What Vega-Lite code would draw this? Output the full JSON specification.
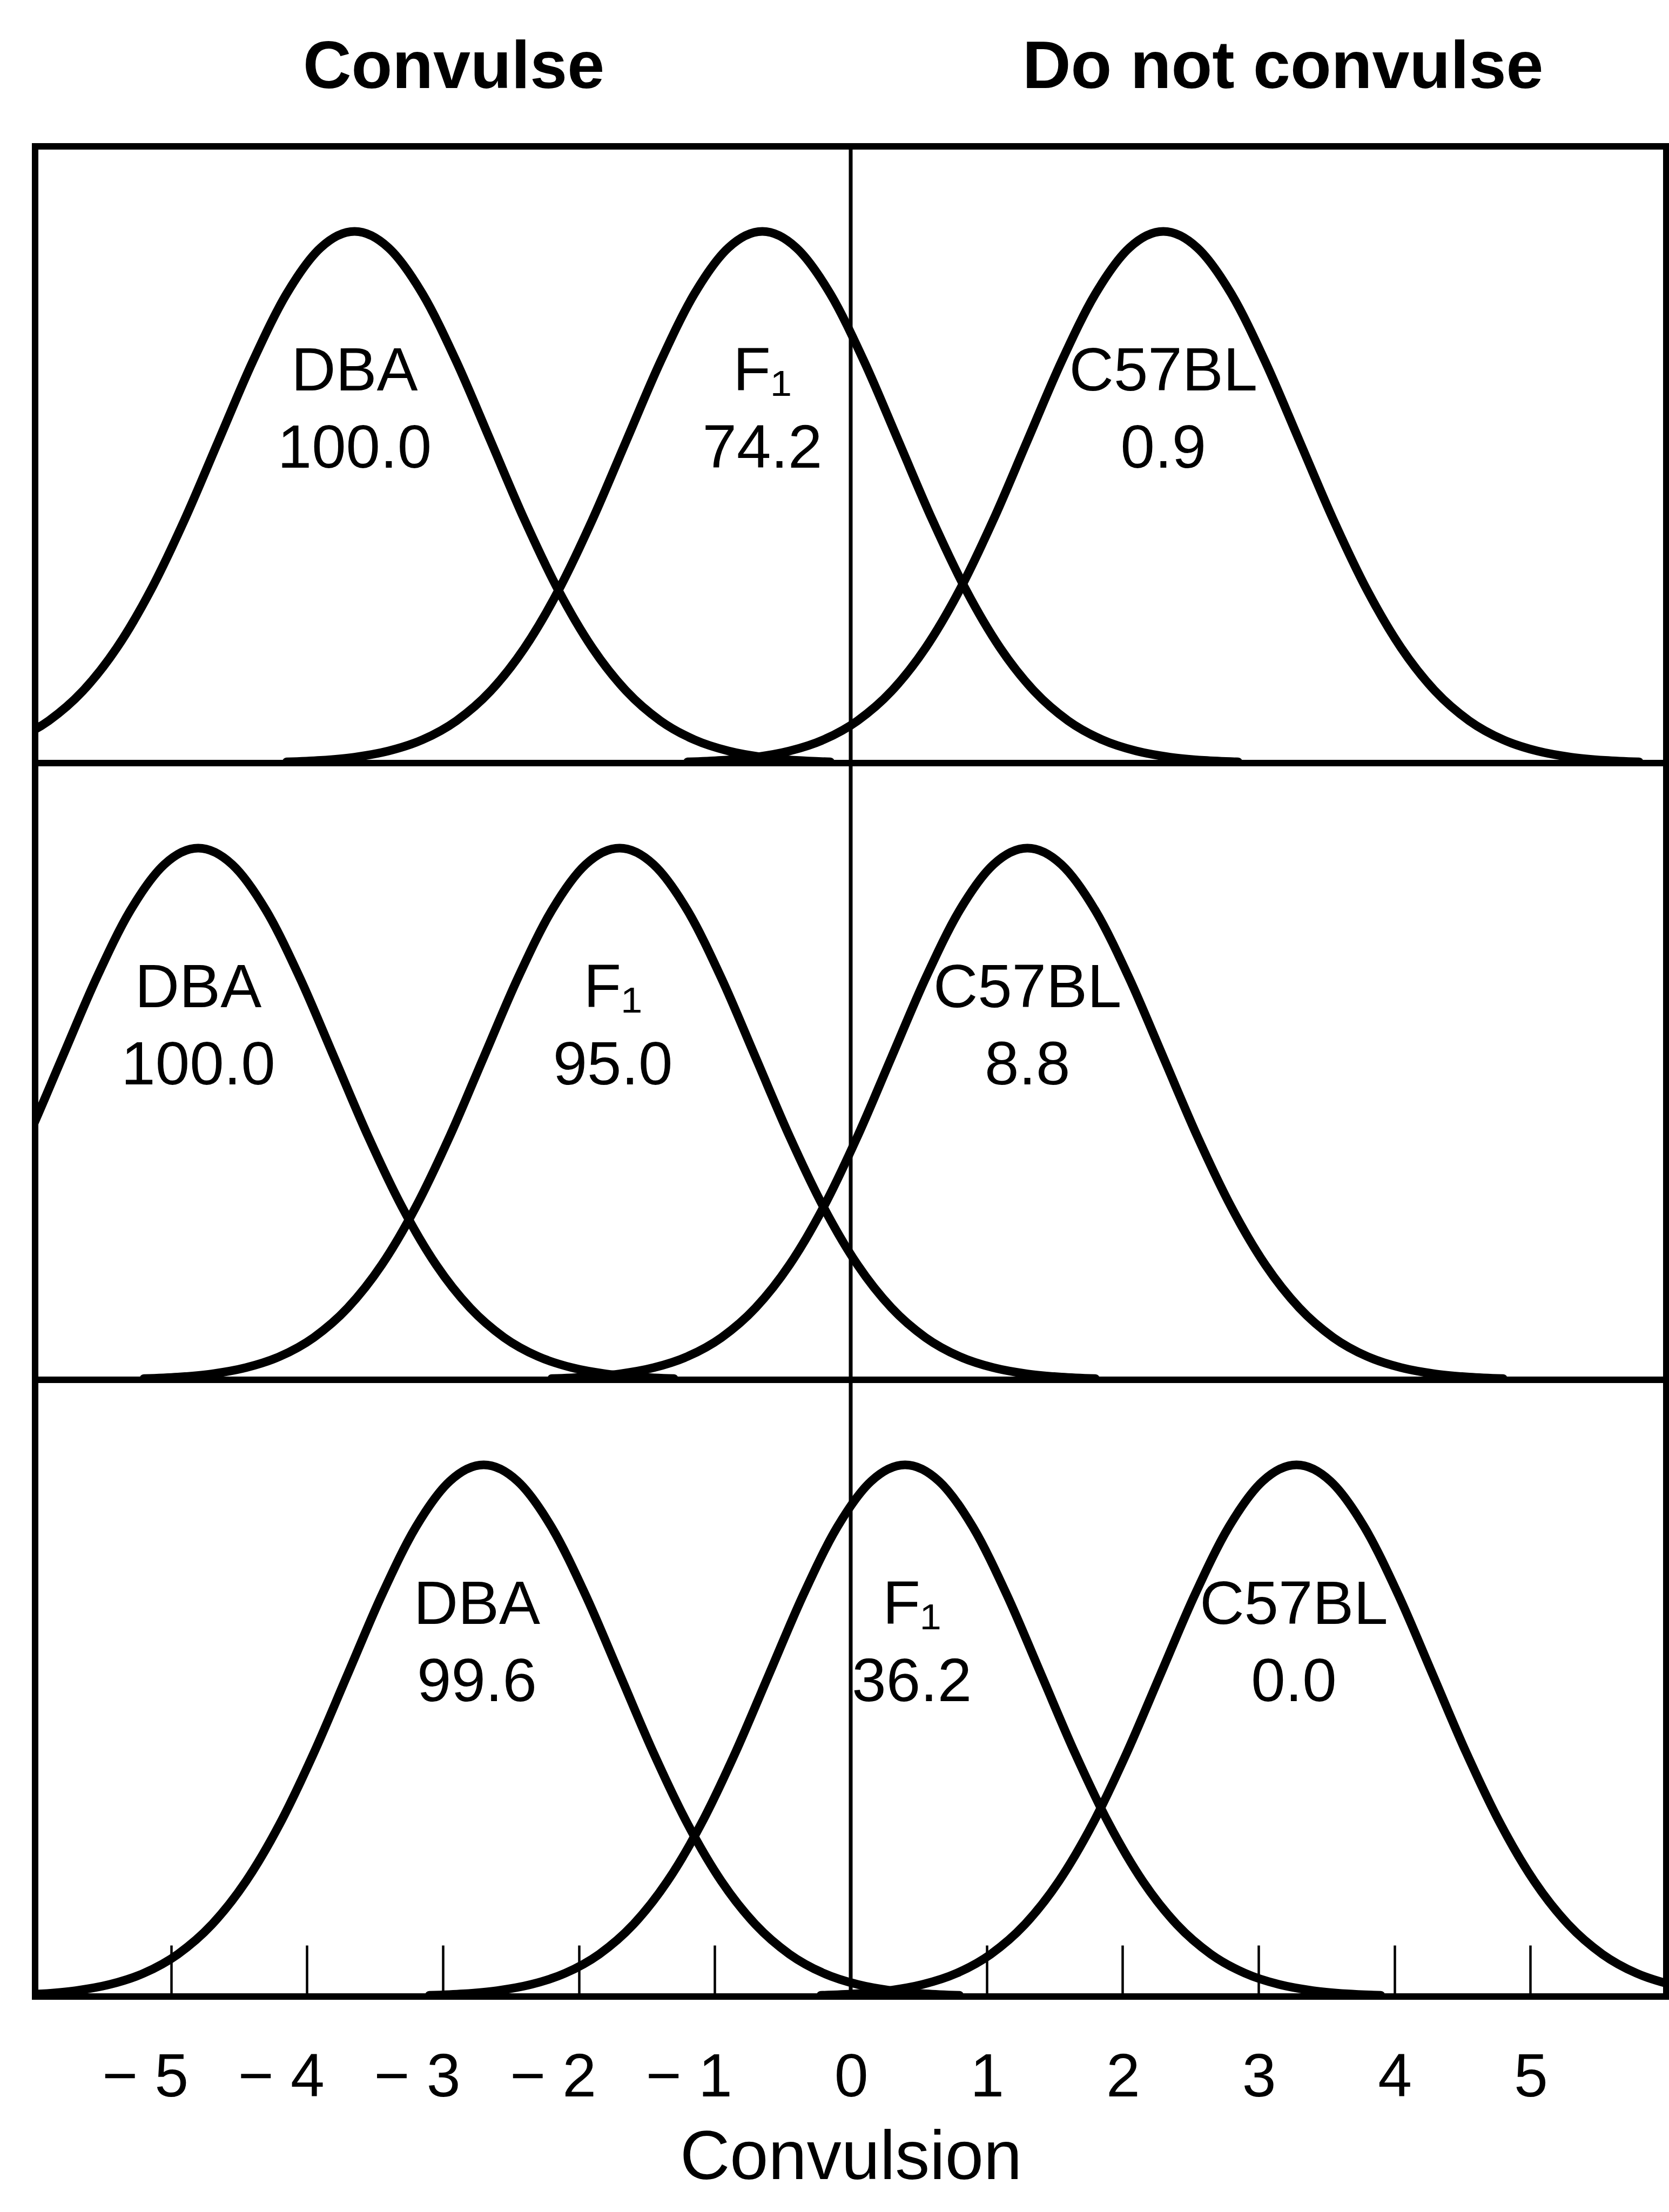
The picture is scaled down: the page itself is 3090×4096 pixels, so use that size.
{
  "$schema": "https://vega.github.io/schema/vega-lite/v6.json",
  "padding": {"left": 59, "top": 58, "right": 0, "bottom": 0},
  "background": "white",
  "config": {
    "view": {"stroke": "black", "strokeWidth": 12},
    "font": "Liberation Sans",
    "text": {"font": "Liberation Sans", "color": "black"}
  },
  "data": {"values": [
    {"p":"1","k":"zero","x":0},
    {"p":"2","k":"zero","x":0},
    {"p":"3","k":"zero","x":0},
    {"p":"1","k":"head","x":-2.92,"t":"Convulse"},
    {"p":"1","k":"head","x":3.18,"t":"Do not convulse"},
    {"p":"1","k":"lab","s":"DBA","x":-3.65,"pct":100.0},
    {"p":"1","k":"lab","s":"F₁","x":-0.65,"pct":74.2},
    {"p":"1","k":"lab","s":"C57BL","x":2.3,"pct":0.9},
    {"p":"2","k":"lab","s":"DBA","x":-4.8,"pct":100.0},
    {"p":"2","k":"lab","s":"F₁","x":-1.75,"pct":95.0},
    {"p":"2","k":"lab","s":"C57BL","x":1.3,"pct":8.8},
    {"p":"3","k":"lab","s":"DBA","x":-2.75,"pct":99.6},
    {"p":"3","k":"lab","s":"F₁","x":0.45,"pct":36.2},
    {"p":"3","k":"lab","s":"C57BL","x":3.26,"pct":0.0},

    {"p":"1","k":"c","s":"DBA","x":-6.15,"y":0.0439},
    {"p":"1","k":"c","s":"DBA","x":-5.9,"y":0.0796},
    {"p":"1","k":"c","s":"DBA","x":-5.65,"y":0.1353},
    {"p":"1","k":"c","s":"DBA","x":-5.4,"y":0.2163},
    {"p":"1","k":"c","s":"DBA","x":-5.15,"y":0.3247},
    {"p":"1","k":"c","s":"DBA","x":-4.9,"y":0.4578},
    {"p":"1","k":"c","s":"DBA","x":-4.65,"y":0.6065},
    {"p":"1","k":"c","s":"DBA","x":-4.4,"y":0.7548},
    {"p":"1","k":"c","s":"DBA","x":-4.15,"y":0.8825},
    {"p":"1","k":"c","s":"DBA","x":-3.9,"y":0.9692},
    {"p":"1","k":"c","s":"DBA","x":-3.65,"y":1},
    {"p":"1","k":"c","s":"DBA","x":-3.4,"y":0.9692},
    {"p":"1","k":"c","s":"DBA","x":-3.15,"y":0.8825},
    {"p":"1","k":"c","s":"DBA","x":-2.9,"y":0.7548},
    {"p":"1","k":"c","s":"DBA","x":-2.65,"y":0.6065},
    {"p":"1","k":"c","s":"DBA","x":-2.4,"y":0.4578},
    {"p":"1","k":"c","s":"DBA","x":-2.15,"y":0.3247},
    {"p":"1","k":"c","s":"DBA","x":-1.9,"y":0.2163},
    {"p":"1","k":"c","s":"DBA","x":-1.65,"y":0.1353},
    {"p":"1","k":"c","s":"DBA","x":-1.4,"y":0.0796},
    {"p":"1","k":"c","s":"DBA","x":-1.15,"y":0.0439},
    {"p":"1","k":"c","s":"DBA","x":-0.9,"y":0.0228},
    {"p":"1","k":"c","s":"DBA","x":-0.65,"y":0.0111},
    {"p":"1","k":"c","s":"DBA","x":-0.4,"y":0.0051},
    {"p":"1","k":"c","s":"DBA","x":-0.15,"y":0.0022},

    {"p":"1","k":"c","s":"F1","x":-4.15,"y":0.0022},
    {"p":"1","k":"c","s":"F1","x":-3.9,"y":0.0051},
    {"p":"1","k":"c","s":"F1","x":-3.65,"y":0.0111},
    {"p":"1","k":"c","s":"F1","x":-3.4,"y":0.0228},
    {"p":"1","k":"c","s":"F1","x":-3.15,"y":0.0439},
    {"p":"1","k":"c","s":"F1","x":-2.9,"y":0.0796},
    {"p":"1","k":"c","s":"F1","x":-2.65,"y":0.1353},
    {"p":"1","k":"c","s":"F1","x":-2.4,"y":0.2163},
    {"p":"1","k":"c","s":"F1","x":-2.15,"y":0.3247},
    {"p":"1","k":"c","s":"F1","x":-1.9,"y":0.4578},
    {"p":"1","k":"c","s":"F1","x":-1.65,"y":0.6065},
    {"p":"1","k":"c","s":"F1","x":-1.4,"y":0.7548},
    {"p":"1","k":"c","s":"F1","x":-1.15,"y":0.8825},
    {"p":"1","k":"c","s":"F1","x":-0.9,"y":0.9692},
    {"p":"1","k":"c","s":"F1","x":-0.65,"y":1},
    {"p":"1","k":"c","s":"F1","x":-0.4,"y":0.9692},
    {"p":"1","k":"c","s":"F1","x":-0.15,"y":0.8825},
    {"p":"1","k":"c","s":"F1","x":0.1,"y":0.7548},
    {"p":"1","k":"c","s":"F1","x":0.35,"y":0.6065},
    {"p":"1","k":"c","s":"F1","x":0.6,"y":0.4578},
    {"p":"1","k":"c","s":"F1","x":0.85,"y":0.3247},
    {"p":"1","k":"c","s":"F1","x":1.1,"y":0.2163},
    {"p":"1","k":"c","s":"F1","x":1.35,"y":0.1353},
    {"p":"1","k":"c","s":"F1","x":1.6,"y":0.0796},
    {"p":"1","k":"c","s":"F1","x":1.85,"y":0.0439},
    {"p":"1","k":"c","s":"F1","x":2.1,"y":0.0228},
    {"p":"1","k":"c","s":"F1","x":2.35,"y":0.0111},
    {"p":"1","k":"c","s":"F1","x":2.6,"y":0.0051},
    {"p":"1","k":"c","s":"F1","x":2.85,"y":0.0022},

    {"p":"1","k":"c","s":"C57BL","x":-1.2,"y":0.0022},
    {"p":"1","k":"c","s":"C57BL","x":-0.95,"y":0.0051},
    {"p":"1","k":"c","s":"C57BL","x":-0.7,"y":0.0111},
    {"p":"1","k":"c","s":"C57BL","x":-0.45,"y":0.0228},
    {"p":"1","k":"c","s":"C57BL","x":-0.2,"y":0.0439},
    {"p":"1","k":"c","s":"C57BL","x":0.05,"y":0.0796},
    {"p":"1","k":"c","s":"C57BL","x":0.3,"y":0.1353},
    {"p":"1","k":"c","s":"C57BL","x":0.55,"y":0.2163},
    {"p":"1","k":"c","s":"C57BL","x":0.8,"y":0.3247},
    {"p":"1","k":"c","s":"C57BL","x":1.05,"y":0.4578},
    {"p":"1","k":"c","s":"C57BL","x":1.3,"y":0.6065},
    {"p":"1","k":"c","s":"C57BL","x":1.55,"y":0.7548},
    {"p":"1","k":"c","s":"C57BL","x":1.8,"y":0.8825},
    {"p":"1","k":"c","s":"C57BL","x":2.05,"y":0.9692},
    {"p":"1","k":"c","s":"C57BL","x":2.3,"y":1},
    {"p":"1","k":"c","s":"C57BL","x":2.55,"y":0.9692},
    {"p":"1","k":"c","s":"C57BL","x":2.8,"y":0.8825},
    {"p":"1","k":"c","s":"C57BL","x":3.05,"y":0.7548},
    {"p":"1","k":"c","s":"C57BL","x":3.3,"y":0.6065},
    {"p":"1","k":"c","s":"C57BL","x":3.55,"y":0.4578},
    {"p":"1","k":"c","s":"C57BL","x":3.8,"y":0.3247},
    {"p":"1","k":"c","s":"C57BL","x":4.05,"y":0.2163},
    {"p":"1","k":"c","s":"C57BL","x":4.3,"y":0.1353},
    {"p":"1","k":"c","s":"C57BL","x":4.55,"y":0.0796},
    {"p":"1","k":"c","s":"C57BL","x":4.8,"y":0.0439},
    {"p":"1","k":"c","s":"C57BL","x":5.05,"y":0.0228},
    {"p":"1","k":"c","s":"C57BL","x":5.3,"y":0.0111},
    {"p":"1","k":"c","s":"C57BL","x":5.55,"y":0.0051},
    {"p":"1","k":"c","s":"C57BL","x":5.8,"y":0.0022},

    {"p":"2","k":"c","s":"DBA","x":-6.3,"y":0.3247},
    {"p":"2","k":"c","s":"DBA","x":-6.05,"y":0.4578},
    {"p":"2","k":"c","s":"DBA","x":-5.8,"y":0.6065},
    {"p":"2","k":"c","s":"DBA","x":-5.55,"y":0.7548},
    {"p":"2","k":"c","s":"DBA","x":-5.3,"y":0.8825},
    {"p":"2","k":"c","s":"DBA","x":-5.05,"y":0.9692},
    {"p":"2","k":"c","s":"DBA","x":-4.8,"y":1},
    {"p":"2","k":"c","s":"DBA","x":-4.55,"y":0.9692},
    {"p":"2","k":"c","s":"DBA","x":-4.3,"y":0.8825},
    {"p":"2","k":"c","s":"DBA","x":-4.05,"y":0.7548},
    {"p":"2","k":"c","s":"DBA","x":-3.8,"y":0.6065},
    {"p":"2","k":"c","s":"DBA","x":-3.55,"y":0.4578},
    {"p":"2","k":"c","s":"DBA","x":-3.3,"y":0.3247},
    {"p":"2","k":"c","s":"DBA","x":-3.05,"y":0.2163},
    {"p":"2","k":"c","s":"DBA","x":-2.8,"y":0.1353},
    {"p":"2","k":"c","s":"DBA","x":-2.55,"y":0.0796},
    {"p":"2","k":"c","s":"DBA","x":-2.3,"y":0.0439},
    {"p":"2","k":"c","s":"DBA","x":-2.05,"y":0.0228},
    {"p":"2","k":"c","s":"DBA","x":-1.8,"y":0.0111},
    {"p":"2","k":"c","s":"DBA","x":-1.55,"y":0.0051},
    {"p":"2","k":"c","s":"DBA","x":-1.3,"y":0.0022},

    {"p":"2","k":"c","s":"F1","x":-5.2,"y":0.0022},
    {"p":"2","k":"c","s":"F1","x":-4.95,"y":0.0051},
    {"p":"2","k":"c","s":"F1","x":-4.7,"y":0.0111},
    {"p":"2","k":"c","s":"F1","x":-4.45,"y":0.0228},
    {"p":"2","k":"c","s":"F1","x":-4.2,"y":0.0439},
    {"p":"2","k":"c","s":"F1","x":-3.95,"y":0.0796},
    {"p":"2","k":"c","s":"F1","x":-3.7,"y":0.1353},
    {"p":"2","k":"c","s":"F1","x":-3.45,"y":0.2163},
    {"p":"2","k":"c","s":"F1","x":-3.2,"y":0.3247},
    {"p":"2","k":"c","s":"F1","x":-2.95,"y":0.4578},
    {"p":"2","k":"c","s":"F1","x":-2.7,"y":0.6065},
    {"p":"2","k":"c","s":"F1","x":-2.45,"y":0.7548},
    {"p":"2","k":"c","s":"F1","x":-2.2,"y":0.8825},
    {"p":"2","k":"c","s":"F1","x":-1.95,"y":0.9692},
    {"p":"2","k":"c","s":"F1","x":-1.7,"y":1},
    {"p":"2","k":"c","s":"F1","x":-1.45,"y":0.9692},
    {"p":"2","k":"c","s":"F1","x":-1.2,"y":0.8825},
    {"p":"2","k":"c","s":"F1","x":-0.95,"y":0.7548},
    {"p":"2","k":"c","s":"F1","x":-0.7,"y":0.6065},
    {"p":"2","k":"c","s":"F1","x":-0.45,"y":0.4578},
    {"p":"2","k":"c","s":"F1","x":-0.2,"y":0.3247},
    {"p":"2","k":"c","s":"F1","x":0.05,"y":0.2163},
    {"p":"2","k":"c","s":"F1","x":0.3,"y":0.1353},
    {"p":"2","k":"c","s":"F1","x":0.55,"y":0.0796},
    {"p":"2","k":"c","s":"F1","x":0.8,"y":0.0439},
    {"p":"2","k":"c","s":"F1","x":1.05,"y":0.0228},
    {"p":"2","k":"c","s":"F1","x":1.3,"y":0.0111},
    {"p":"2","k":"c","s":"F1","x":1.55,"y":0.0051},
    {"p":"2","k":"c","s":"F1","x":1.8,"y":0.0022},

    {"p":"2","k":"c","s":"C57BL","x":-2.2,"y":0.0022},
    {"p":"2","k":"c","s":"C57BL","x":-1.95,"y":0.0051},
    {"p":"2","k":"c","s":"C57BL","x":-1.7,"y":0.0111},
    {"p":"2","k":"c","s":"C57BL","x":-1.45,"y":0.0228},
    {"p":"2","k":"c","s":"C57BL","x":-1.2,"y":0.0439},
    {"p":"2","k":"c","s":"C57BL","x":-0.95,"y":0.0796},
    {"p":"2","k":"c","s":"C57BL","x":-0.7,"y":0.1353},
    {"p":"2","k":"c","s":"C57BL","x":-0.45,"y":0.2163},
    {"p":"2","k":"c","s":"C57BL","x":-0.2,"y":0.3247},
    {"p":"2","k":"c","s":"C57BL","x":0.05,"y":0.4578},
    {"p":"2","k":"c","s":"C57BL","x":0.3,"y":0.6065},
    {"p":"2","k":"c","s":"C57BL","x":0.55,"y":0.7548},
    {"p":"2","k":"c","s":"C57BL","x":0.8,"y":0.8825},
    {"p":"2","k":"c","s":"C57BL","x":1.05,"y":0.9692},
    {"p":"2","k":"c","s":"C57BL","x":1.3,"y":1},
    {"p":"2","k":"c","s":"C57BL","x":1.55,"y":0.9692},
    {"p":"2","k":"c","s":"C57BL","x":1.8,"y":0.8825},
    {"p":"2","k":"c","s":"C57BL","x":2.05,"y":0.7548},
    {"p":"2","k":"c","s":"C57BL","x":2.3,"y":0.6065},
    {"p":"2","k":"c","s":"C57BL","x":2.55,"y":0.4578},
    {"p":"2","k":"c","s":"C57BL","x":2.8,"y":0.3247},
    {"p":"2","k":"c","s":"C57BL","x":3.05,"y":0.2163},
    {"p":"2","k":"c","s":"C57BL","x":3.3,"y":0.1353},
    {"p":"2","k":"c","s":"C57BL","x":3.55,"y":0.0796},
    {"p":"2","k":"c","s":"C57BL","x":3.8,"y":0.0439},
    {"p":"2","k":"c","s":"C57BL","x":4.05,"y":0.0228},
    {"p":"2","k":"c","s":"C57BL","x":4.3,"y":0.0111},
    {"p":"2","k":"c","s":"C57BL","x":4.55,"y":0.0051},
    {"p":"2","k":"c","s":"C57BL","x":4.8,"y":0.0022},

    {"p":"3","k":"c","s":"DBA","x":-6.2,"y":0.0022},
    {"p":"3","k":"c","s":"DBA","x":-5.95,"y":0.0051},
    {"p":"3","k":"c","s":"DBA","x":-5.7,"y":0.0111},
    {"p":"3","k":"c","s":"DBA","x":-5.45,"y":0.0228},
    {"p":"3","k":"c","s":"DBA","x":-5.2,"y":0.0439},
    {"p":"3","k":"c","s":"DBA","x":-4.95,"y":0.0796},
    {"p":"3","k":"c","s":"DBA","x":-4.7,"y":0.1353},
    {"p":"3","k":"c","s":"DBA","x":-4.45,"y":0.2163},
    {"p":"3","k":"c","s":"DBA","x":-4.2,"y":0.3247},
    {"p":"3","k":"c","s":"DBA","x":-3.95,"y":0.4578},
    {"p":"3","k":"c","s":"DBA","x":-3.7,"y":0.6065},
    {"p":"3","k":"c","s":"DBA","x":-3.45,"y":0.7548},
    {"p":"3","k":"c","s":"DBA","x":-3.2,"y":0.8825},
    {"p":"3","k":"c","s":"DBA","x":-2.95,"y":0.9692},
    {"p":"3","k":"c","s":"DBA","x":-2.7,"y":1},
    {"p":"3","k":"c","s":"DBA","x":-2.45,"y":0.9692},
    {"p":"3","k":"c","s":"DBA","x":-2.2,"y":0.8825},
    {"p":"3","k":"c","s":"DBA","x":-1.95,"y":0.7548},
    {"p":"3","k":"c","s":"DBA","x":-1.7,"y":0.6065},
    {"p":"3","k":"c","s":"DBA","x":-1.45,"y":0.4578},
    {"p":"3","k":"c","s":"DBA","x":-1.2,"y":0.3247},
    {"p":"3","k":"c","s":"DBA","x":-0.95,"y":0.2163},
    {"p":"3","k":"c","s":"DBA","x":-0.7,"y":0.1353},
    {"p":"3","k":"c","s":"DBA","x":-0.45,"y":0.0796},
    {"p":"3","k":"c","s":"DBA","x":-0.2,"y":0.0439},
    {"p":"3","k":"c","s":"DBA","x":0.05,"y":0.0228},
    {"p":"3","k":"c","s":"DBA","x":0.3,"y":0.0111},
    {"p":"3","k":"c","s":"DBA","x":0.55,"y":0.0051},
    {"p":"3","k":"c","s":"DBA","x":0.8,"y":0.0022},

    {"p":"3","k":"c","s":"F1","x":-3.1,"y":0.0022},
    {"p":"3","k":"c","s":"F1","x":-2.85,"y":0.0051},
    {"p":"3","k":"c","s":"F1","x":-2.6,"y":0.0111},
    {"p":"3","k":"c","s":"F1","x":-2.35,"y":0.0228},
    {"p":"3","k":"c","s":"F1","x":-2.1,"y":0.0439},
    {"p":"3","k":"c","s":"F1","x":-1.85,"y":0.0796},
    {"p":"3","k":"c","s":"F1","x":-1.6,"y":0.1353},
    {"p":"3","k":"c","s":"F1","x":-1.35,"y":0.2163},
    {"p":"3","k":"c","s":"F1","x":-1.1,"y":0.3247},
    {"p":"3","k":"c","s":"F1","x":-0.85,"y":0.4578},
    {"p":"3","k":"c","s":"F1","x":-0.6,"y":0.6065},
    {"p":"3","k":"c","s":"F1","x":-0.35,"y":0.7548},
    {"p":"3","k":"c","s":"F1","x":-0.1,"y":0.8825},
    {"p":"3","k":"c","s":"F1","x":0.15,"y":0.9692},
    {"p":"3","k":"c","s":"F1","x":0.4,"y":1},
    {"p":"3","k":"c","s":"F1","x":0.65,"y":0.9692},
    {"p":"3","k":"c","s":"F1","x":0.9,"y":0.8825},
    {"p":"3","k":"c","s":"F1","x":1.15,"y":0.7548},
    {"p":"3","k":"c","s":"F1","x":1.4,"y":0.6065},
    {"p":"3","k":"c","s":"F1","x":1.65,"y":0.4578},
    {"p":"3","k":"c","s":"F1","x":1.9,"y":0.3247},
    {"p":"3","k":"c","s":"F1","x":2.15,"y":0.2163},
    {"p":"3","k":"c","s":"F1","x":2.4,"y":0.1353},
    {"p":"3","k":"c","s":"F1","x":2.65,"y":0.0796},
    {"p":"3","k":"c","s":"F1","x":2.9,"y":0.0439},
    {"p":"3","k":"c","s":"F1","x":3.15,"y":0.0228},
    {"p":"3","k":"c","s":"F1","x":3.4,"y":0.0111},
    {"p":"3","k":"c","s":"F1","x":3.65,"y":0.0051},
    {"p":"3","k":"c","s":"F1","x":3.9,"y":0.0022},

    {"p":"3","k":"c","s":"C57BL","x":-0.22,"y":0.0022},
    {"p":"3","k":"c","s":"C57BL","x":0.03,"y":0.0051},
    {"p":"3","k":"c","s":"C57BL","x":0.28,"y":0.0111},
    {"p":"3","k":"c","s":"C57BL","x":0.53,"y":0.0228},
    {"p":"3","k":"c","s":"C57BL","x":0.78,"y":0.0439},
    {"p":"3","k":"c","s":"C57BL","x":1.03,"y":0.0796},
    {"p":"3","k":"c","s":"C57BL","x":1.28,"y":0.1353},
    {"p":"3","k":"c","s":"C57BL","x":1.53,"y":0.2163},
    {"p":"3","k":"c","s":"C57BL","x":1.78,"y":0.3247},
    {"p":"3","k":"c","s":"C57BL","x":2.03,"y":0.4578},
    {"p":"3","k":"c","s":"C57BL","x":2.28,"y":0.6065},
    {"p":"3","k":"c","s":"C57BL","x":2.53,"y":0.7548},
    {"p":"3","k":"c","s":"C57BL","x":2.78,"y":0.8825},
    {"p":"3","k":"c","s":"C57BL","x":3.03,"y":0.9692},
    {"p":"3","k":"c","s":"C57BL","x":3.28,"y":1},
    {"p":"3","k":"c","s":"C57BL","x":3.53,"y":0.9692},
    {"p":"3","k":"c","s":"C57BL","x":3.78,"y":0.8825},
    {"p":"3","k":"c","s":"C57BL","x":4.03,"y":0.7548},
    {"p":"3","k":"c","s":"C57BL","x":4.28,"y":0.6065},
    {"p":"3","k":"c","s":"C57BL","x":4.53,"y":0.4578},
    {"p":"3","k":"c","s":"C57BL","x":4.78,"y":0.3247},
    {"p":"3","k":"c","s":"C57BL","x":5.03,"y":0.2163},
    {"p":"3","k":"c","s":"C57BL","x":5.28,"y":0.1353},
    {"p":"3","k":"c","s":"C57BL","x":5.53,"y":0.0796},
    {"p":"3","k":"c","s":"C57BL","x":5.78,"y":0.0439},
    {"p":"3","k":"c","s":"C57BL","x":6.03,"y":0.0228},
    {"p":"3","k":"c","s":"C57BL","x":6.28,"y":0.0111}
  ]},
  "facet": {"row": {"field": "p", "type": "ordinal", "header": null}},
  "spacing": 0,
  "bounds": "flush",
  "spec": {
    "width": 3020,
    "height": 1142,
    "encoding": {
      "x": {
        "field": "x",
        "type": "quantitative",
        "scale": {"domain": [-6, 6], "nice": false, "zero": false},
        "axis": {
          "values": [-5, -4, -3, -2, -1, 0, 1, 2, 3, 4, 5],
          "domain": false,
          "grid": false,
          "tickSize": -95,
          "tickWidth": 4.5,
          "tickColor": "black",
          "labelFont": "Liberation Sans",
          "labelFontSize": 113,
          "labelColor": "black",
          "labelPadding": 190,
          "labelAlign": "right",
          "labelOffset": 32,
          "labelFlush": false,
          "labelOverlap": false,
          "labelExpr": "datum.value < 0 ? '− ' + abs(datum.value) : datum.label",
          "title": "Convulsion",
          "titleFont": "Liberation Sans",
          "titleFontSize": 128,
          "titleFontWeight": "normal",
          "titleColor": "black",
          "titlePadding": 36
        }
      }
    },
    "layer": [
      {
        "transform": [{"filter": "datum.k === 'zero'"}],
        "mark": {"type": "rule", "color": "black", "strokeWidth": 7},
        "encoding": {}
      },
      {
        "transform": [{"filter": "datum.k === 'c'"}],
        "mark": {"type": "line", "interpolate": "monotone", "color": "black", "strokeWidth": 16, "clip": true, "strokeJoin": "round", "strokeCap": "round"},
        "encoding": {
          "y": {"field": "y", "type": "quantitative", "scale": {"domain": [0, 1.16], "nice": false, "zero": false}, "axis": null},
          "detail": {"field": "s"}
        }
      },
      {
        "transform": [{"filter": "datum.k === 'lab'"}],
        "mark": {"type": "text", "fontSize": 114, "baseline": "middle", "align": "center"},
        "encoding": {
          "y": {"datum": 0.735, "type": "quantitative", "axis": null},
          "text": {"field": "s"}
        }
      },
      {
        "transform": [{"filter": "datum.k === 'lab'"}],
        "mark": {"type": "text", "fontSize": 114, "baseline": "middle", "align": "center"},
        "encoding": {
          "y": {"datum": 0.59, "type": "quantitative", "axis": null},
          "text": {"field": "pct", "type": "quantitative", "format": ".1f"}
        }
      },
      {
        "transform": [{"filter": "datum.k === 'head'"}],
        "mark": {"type": "text", "fontSize": 124, "fontWeight": "bold", "baseline": "middle", "align": "center"},
        "encoding": {
          "y": {"datum": 1.307, "type": "quantitative", "axis": null},
          "text": {"field": "t"}
        }
      }
    ]
  }
}
